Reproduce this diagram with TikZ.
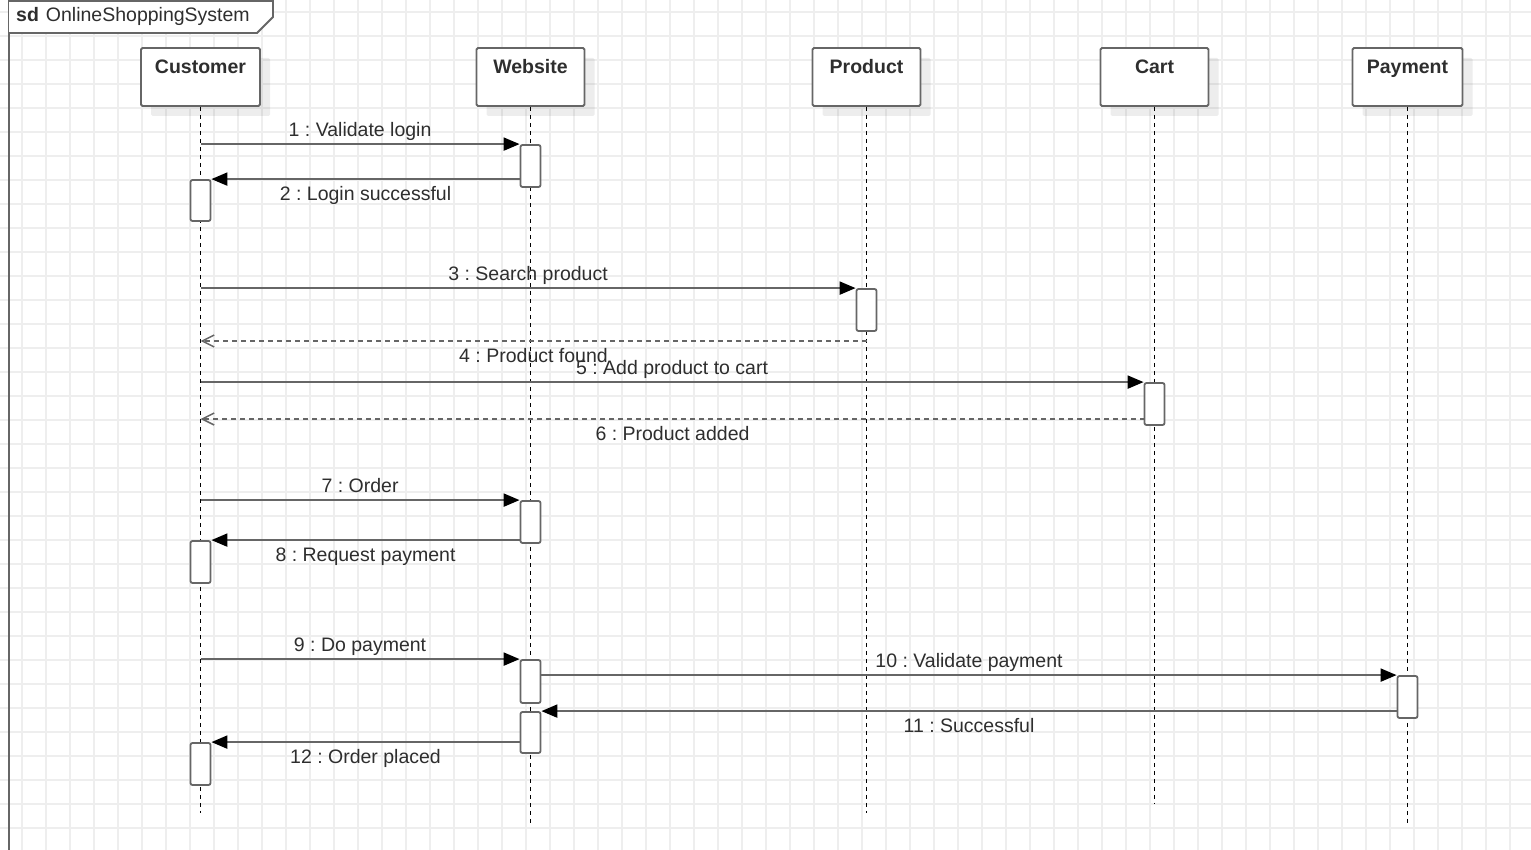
\documentclass[tikz,border=0pt]{standalone}
\usepackage{fontspec}
\setmainfont{Liberation Sans}
\usetikzlibrary{arrows.meta,shadows}
\definecolor{gridcol}{HTML}{EEEEEE}
\definecolor{edgecol}{HTML}{666666}
\definecolor{txtcol}{HTML}{2E2E2E}
\frenchspacing
\begin{document}
\begin{tikzpicture}[x=1pt,y=-1pt,
  every node/.style={font=\fontsize{19.5}{23}\selectfont, text=txtcol},
  gridline/.style={gridcol, line width=1.2pt},
  headbox/.style={draw=edgecol, line width=1.8pt, fill=white, rounded corners=1.5pt,
    minimum height=58pt, inner sep=0pt,
    drop shadow={shadow xshift=10pt, shadow yshift=-10pt, fill=black, opacity=0.07}},
  headtext/.style={anchor=base, yshift=-26pt, font=\bfseries\fontsize{19.5}{23}\selectfont},
  lifeline/.style={black, line width=1.8pt, dash pattern=on 4pt off 4pt},
  actbar/.style={draw=edgecol, line width=1.8pt, fill=white, rounded corners=2pt,
    minimum width=20pt, inner sep=0pt},
  msg/.style={edgecol, line width=2pt, -{Triangle[length=16pt,width=13pt,black]}},
  reply/.style={edgecol, line width=2pt, dash pattern=on 5pt off 4pt,
    -{Straight Barb[length=12pt,width=12pt,line width=1.5pt,edgecol]}},
  labup/.style={midway, anchor=base, yshift=8pt},
  labdown/.style={midway, anchor=base, yshift=-21pt}]
\useasboundingbox (0,0) rectangle (1531,850);
\fill[white] (0,0) rectangle (1531,850);

% background grid
\foreach \gx in {22,46,...,1530} \draw[gridline] (\gx,0) -- (\gx,850);
\foreach \gy in {12,36,...,850} \draw[gridline] (0,\gy) -- (1531,\gy);

% interaction frame and its name tab
\draw[edgecol, line width=1.8pt] (9,0) -- (9,850);
\draw[edgecol, line width=1.8pt, fill=white] (9,1) -- (273,1) -- (273,17) -- (257,33) -- (9,33);
\node[anchor=base west, inner sep=0pt] (frametitle) at (16,22)
  {\textbf{sd}\hspace{7pt}OnlineShoppingSystem};

% lifeline heads
\node[headbox, minimum width=119pt, label={[headtext]north:Customer}] (customer) at (200.5,77) {};
\node[headbox, minimum width=108pt, label={[headtext]north:Website}]  (website)  at (530.5,77) {};
\node[headbox, minimum width=108pt, label={[headtext]north:Product}]  (product)  at (866.5,77) {};
\node[headbox, minimum width=108pt, label={[headtext]north:Cart}]     (cart)     at (1154.5,77) {};
\node[headbox, minimum width=110pt, label={[headtext]north:Payment}]  (payment)  at (1407.5,77) {};

% lifeline ends
\coordinate (customer-end) at (200.5,813);
\coordinate (website-end)  at (530.5,823);
\coordinate (product-end)  at (866.5,813);
\coordinate (cart-end)     at (1154.5,803);
\coordinate (payment-end)  at (1407.5,823);

\foreach \obj in {customer,website,product,cart,payment}
  \draw[lifeline] (\obj.south) -- (\obj-end);

% activation bars
\node[actbar, minimum height=42pt] (w1) at (530.5,166) {};
\node[actbar, minimum height=41pt] (c1) at (200.5,200.5) {};
\node[actbar, minimum height=42pt] (p1) at (866.5,310) {};
\node[actbar, minimum height=42pt] (k1) at (1154.5,404) {};
\node[actbar, minimum height=42pt] (w2) at (530.5,522) {};
\node[actbar, minimum height=42pt] (c2) at (200.5,562) {};
\node[actbar, minimum height=43pt] (w3) at (530.5,681.5) {};
\node[actbar, minimum height=41pt] (w4) at (530.5,732.5) {};
\node[actbar, minimum height=42pt] (y1) at (1407.5,697) {};
\node[actbar, minimum height=42pt] (c3) at (200.5,764) {};

% messages
\draw[msg] (customer.south |- w1.north) -- node[labup] {1 : Validate login} (w1.north west);
\draw[msg] (w1.west |- c1.north) -- node[labdown] {2 : Login successful} (c1.north east);
\draw[msg] (customer.south |- p1.north) -- node[labup] {3 : Search product} (p1.north west);
\coordinate (m4) at (866.5,341);
\draw[reply] (m4) -- node[labdown] {4 : Product found} (customer.south |- m4);
\draw[msg] (customer.south |- k1.north) -- node[labup] {5 : Add product to cart} (k1.north west);
\coordinate (m6) at (1144.5,419);
\draw[reply] (m6) -- node[labdown] {6 : Product added} (customer.south |- m6);
\draw[msg] (customer.south |- w2.north) -- node[labup] {7 : Order} (w2.north west);
\draw[msg] (w2.west |- c2.north) -- node[labdown] {8 : Request payment} (c2.north east);
\draw[msg] (customer.south |- w3.north) -- node[labup] {9 : Do payment} (w3.north west);
\draw[msg] (w3.east |- y1.north) -- node[labup] {10 : Validate payment} (y1.north west);
\draw[msg] (y1.west |- w4.north) -- node[labdown] {11 : Successful} (w4.north east);
\draw[msg] (w4.west |- c3.north) -- node[labdown] {12 : Order placed} (c3.north east);
\end{tikzpicture}
\end{document}
